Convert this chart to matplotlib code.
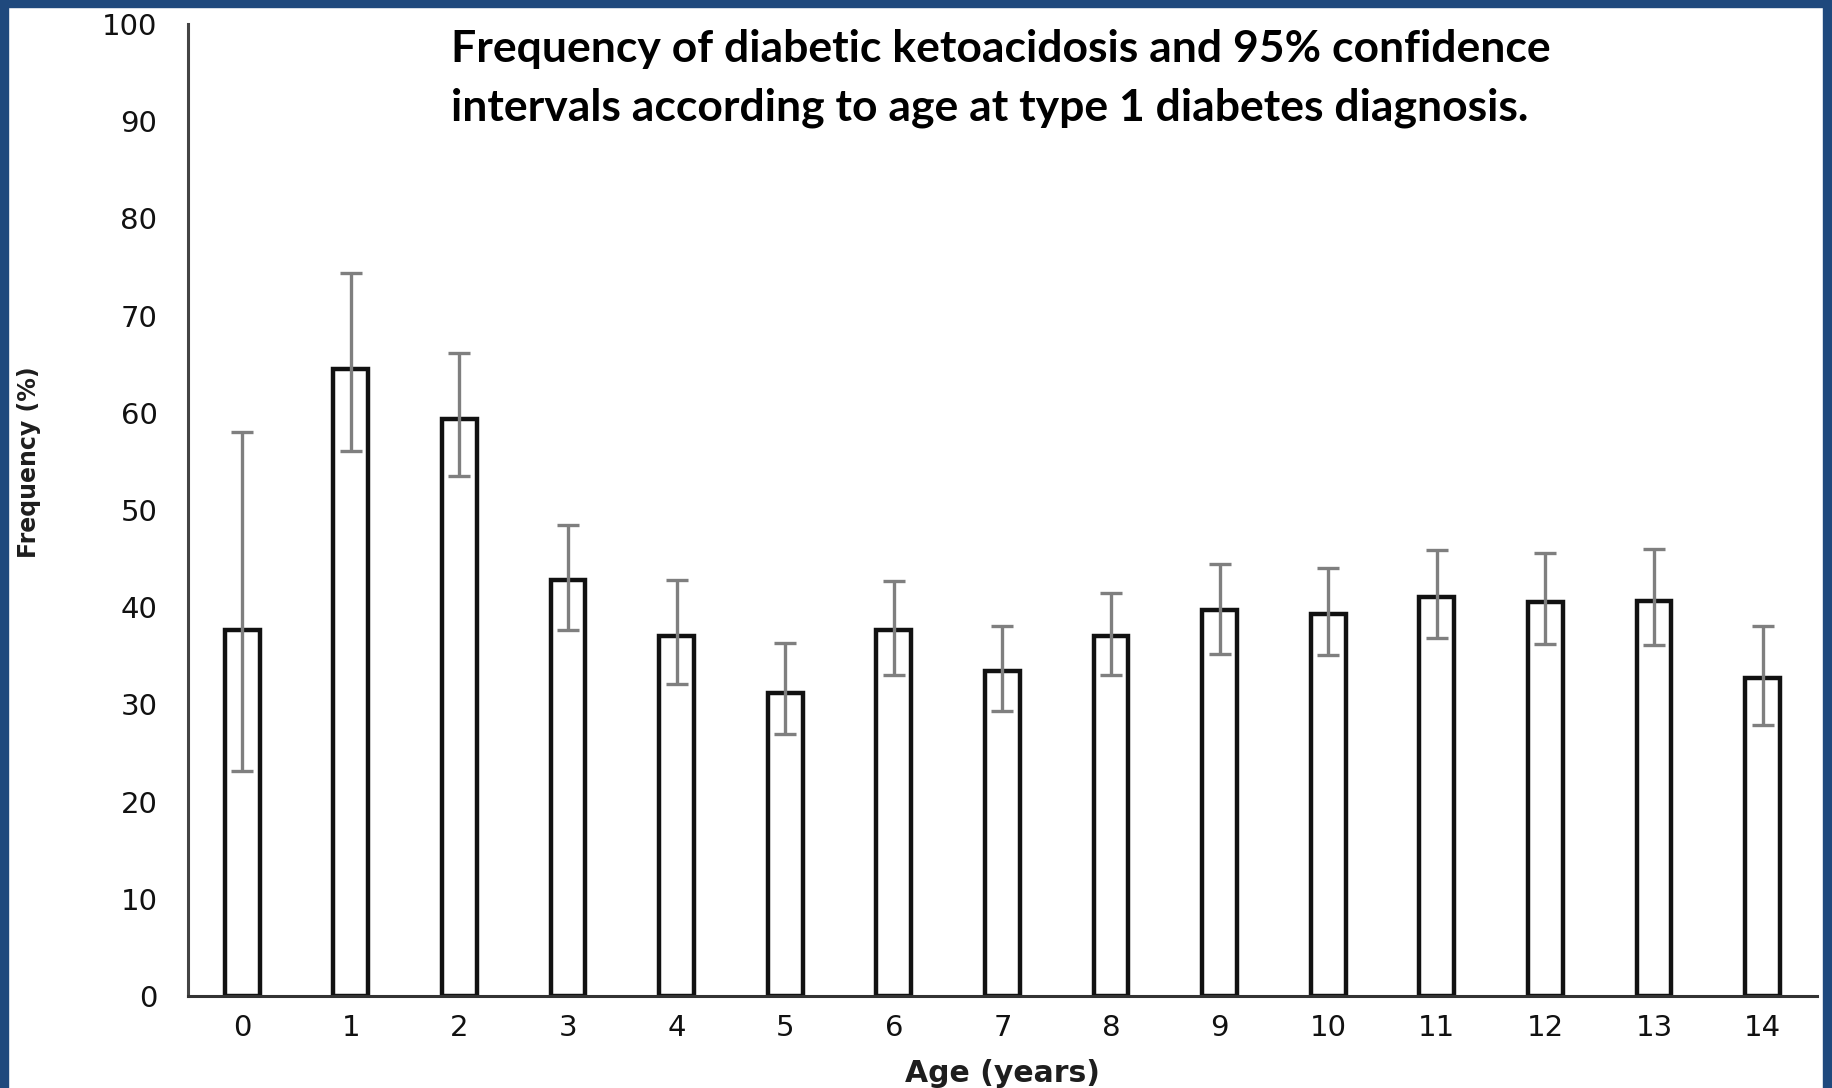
import matplotlib.pyplot as plt
from matplotlib.patches import Rectangle

# DKA frequency by age at diagnosis, with 95% CI bounds
ages = list(range(15))
freq = [37.7, 64.5, 59.4, 42.8, 37.0, 31.2, 37.6, 33.4, 37.0, 39.7, 39.3, 41.0, 40.5, 40.6, 32.7]
ci_low = [23.1, 56.1, 53.5, 37.7, 32.1, 26.9, 33.0, 29.3, 33.0, 35.2, 35.1, 36.8, 36.2, 36.1, 27.9]
ci_high = [58.0, 74.4, 66.1, 48.4, 42.8, 36.3, 42.7, 38.1, 41.5, 44.4, 44.0, 45.9, 45.6, 46.0, 38.1]
yticks = list(range(0, 101, 10))

err = [[f - lo for f, lo in zip(freq, ci_low)],
       [hi - f for f, hi in zip(freq, ci_high)]]

plt.rcParams['font.family'] = ['DejaVu Sans']

fig = plt.figure(figsize=(18.32, 10.88), dpi=100)
ax = fig.add_axes([0.1026, 0.0846, 0.8892, 0.8934])

ax.bar(ages, freq, width=0.32, color='white', edgecolor='#111111', linewidth=3.2, zorder=2)
ax.errorbar(ages, freq, yerr=err, fmt='none', ecolor='#7f7f7f', elinewidth=2.4,
            capsize=8, capthick=2.4, zorder=3)

ax.set_xlim(-0.5, 14.5)
ax.set_ylim(0, 100)
ax.set_yticks(yticks)
ax.set_xticks(ages)
ax.tick_params(length=0, labelsize=21, colors='#111111')
ax.tick_params(axis='y', pad=22)
ax.tick_params(axis='x', pad=13)

for side in ('top', 'right'):
    ax.spines[side].set_visible(False)
ax.spines['left'].set_color('#444444')
ax.spines['left'].set_linewidth(2.2)
ax.spines['bottom'].set_color('#333333')
ax.spines['bottom'].set_linewidth(2.2)

ax.set_xlabel('Age (years)', fontsize=21.5, fontweight='bold', labelpad=12, color='#1e1e1e')
fig.text(0.016, 0.575, 'Frequency (%)', rotation=90, fontsize=17, fontweight='bold',
         ha='center', va='center', color='#1e1e1e')

fig.text(0.246, 0.973, 'Frequency of diabetic ketoacidosis and 95% confidence\n'
         'intervals according to age at type 1 diabetes diagnosis.',
         family=['Lato', 'DejaVu Sans'], fontsize=32, fontweight='bold',
         ha='left', va='top', linespacing=1.55)

# blue frame on top, left and right
blue = '#1f497d'
for x0, y0, w, h in [(0, 1 - 7 / 1088, 1, 7 / 1088),
                     (0, 0, 8 / 1832, 1),
                     (1 - 9 / 1832, 0, 9 / 1832, 1)]:
    fig.patches.append(Rectangle((x0, y0), w, h, transform=fig.transFigure,
                                 color=blue, zorder=10))

fig.savefig('out.png', dpi=100)
